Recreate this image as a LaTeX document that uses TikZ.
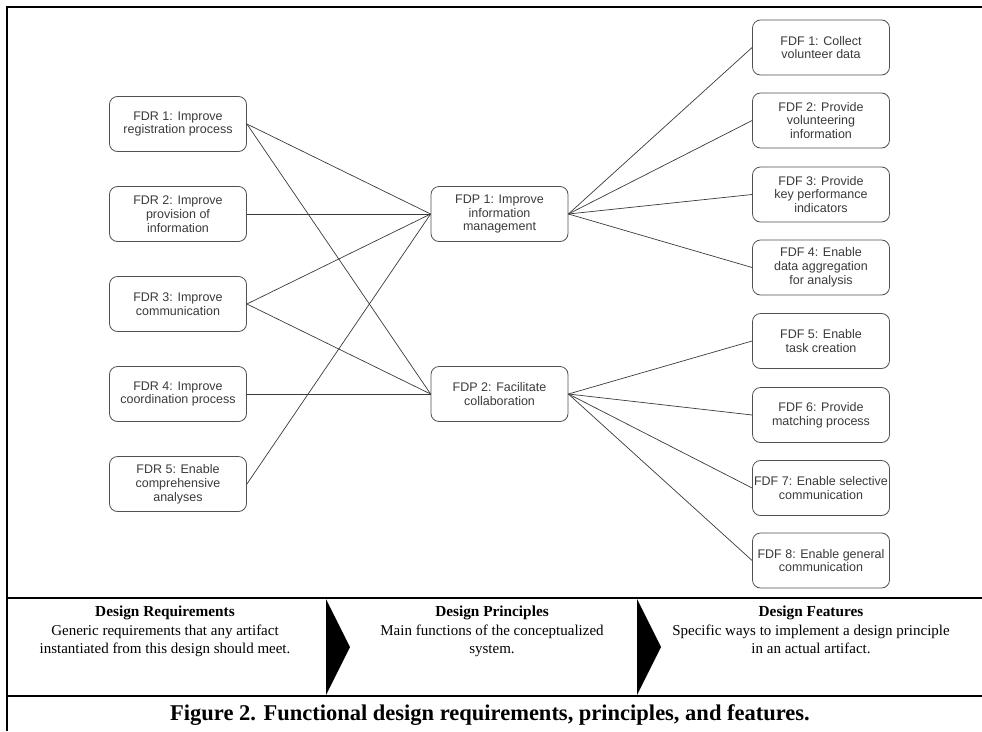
\documentclass[tikz,border=0pt]{standalone}
\usepackage{fontspec}
\setmainfont{Liberation Serif}
\newfontfamily\boxfont{Liberation Sans}
\definecolor{boxline}{HTML}{505050}
\definecolor{boxtext}{HTML}{3A3A3A}
\definecolor{linkline}{HTML}{3A3A3A}
\tikzset{
  item/.style={draw=boxline, line width=0.8pt, rounded corners=8pt,
    minimum width=137pt, minimum height=55pt, inner sep=0pt,
    align=center, text=boxtext,
    font=\boxfont\fontsize{12.5}{13.8}\selectfont},
  link/.style={draw=linkline, line width=0.7pt},
  rule/.style={draw=black, line width=2.6pt},
  chevron/.style={fill=black, draw=none},
  heading/.style={font=\fontsize{15.3}{18}\selectfont\bfseries, inner sep=0pt},
  blurb/.style={font=\fontsize{15}{17.5}\selectfont, align=center, inner sep=0pt},
  caption/.style={font=\fontsize{22.5}{24}\selectfont\bfseries, inner sep=0pt}
}
\begin{document}
\begin{tikzpicture}[x=1pt, y=-1pt]
\useasboundingbox (0,0) rectangle (982,731);

% requirements column
\node[item] (fdr1) at (178,124) {FDR 1: Improve\\registration process};
\node[item] (fdr2) at (178,214) {FDR 2: Improve\\provision of\\information};
\node[item] (fdr3) at (178,304) {FDR 3: Improve\\communication};
\node[item] (fdr4) at (178,394) {FDR 4: Improve\\coordination process};
\node[item] (fdr5) at (178,484) {FDR 5: Enable\\comprehensive\\analyses};

% principles column
\node[item] (fdp1) at (499.5,214) {FDP 1: Improve\\information\\management};
\node[item] (fdp2) at (499.5,394) {FDP 2: Facilitate\\collaboration};

% features column
\node[item] (fdf1) at (821,47.5)  {FDF 1: Collect\\volunteer data};
\node[item] (fdf2) at (821,120.5) {FDF 2: Provide\\volunteering\\information};
\node[item] (fdf3) at (821,194.5) {FDF 3: Provide\\key performance\\indicators};
\node[item] (fdf4) at (821,267.5) {FDF 4: Enable\\data aggregation\\for analysis};
\node[item] (fdf5) at (821,341)   {FDF 5: Enable\\task creation};
\node[item] (fdf6) at (821,415)   {FDF 6: Provide\\matching process};
\node[item] (fdf7) at (821,488)   {FDF 7: Enable selective\\communication};
\node[item] (fdf8) at (821,560.5) {FDF 8: Enable general\\communication};

% requirements -> principles
\draw[link] (fdr1.east) -- (fdp1.west);
\draw[link] (fdr1.east) -- (fdp2.west);
\draw[link] (fdr2.east) -- (fdp1.west);
\draw[link] (fdr3.east) -- (fdp1.west);
\draw[link] (fdr3.east) -- (fdp2.west);
\draw[link] (fdr4.east) -- (fdp2.west);
\draw[link] (fdr5.east) -- (fdp1.west);

% principles -> features
\foreach \f in {fdf1,fdf2,fdf3,fdf4} \draw[link] (fdp1.east) -- (\f.west);
\foreach \f in {fdf5,fdf6,fdf7,fdf8} \draw[link] (fdp2.east) -- (\f.west);

% frame and legend band
\coordinate (tl) at (7,7);
\coordinate (tr) at (982,7);
\coordinate (bl) at (7,731);
\coordinate (s1l) at (7,598);
\coordinate (s1r) at (982,598);
\coordinate (s2l) at (7,696);
\coordinate (s2r) at (982,696);
\draw[rule] (tr) -- (tl) -- (bl);
\draw[rule] (s1l) -- (s1r);
\draw[rule] (s2l) -- (s2r);

\fill[chevron] (326,599) -- (350,647) -- (326,695) -- cycle;
\fill[chevron] (637,599) -- (661,647) -- (637,695) -- cycle;

\node[heading] (h1) at (165,613) {Design Requirements};
\node[blurb, anchor=north] (b1) at (165,625) {Generic requirements that any artifact\\instantiated from this design should meet.};
\node[heading] (h2) at (492,613) {Design Principles};
\node[blurb, anchor=north] (b2) at (492,625) {Main functions of the conceptualized\\system.};
\node[heading] (h3) at (811,613) {Design Features};
\node[blurb, anchor=north] (b3) at (811,625) {Specific ways to implement a design principle\\in an actual artifact.};

\node[caption] (cap) at (490,715) {Figure 2. Functional design requirements, principles, and features.};
\end{tikzpicture}
\end{document}
